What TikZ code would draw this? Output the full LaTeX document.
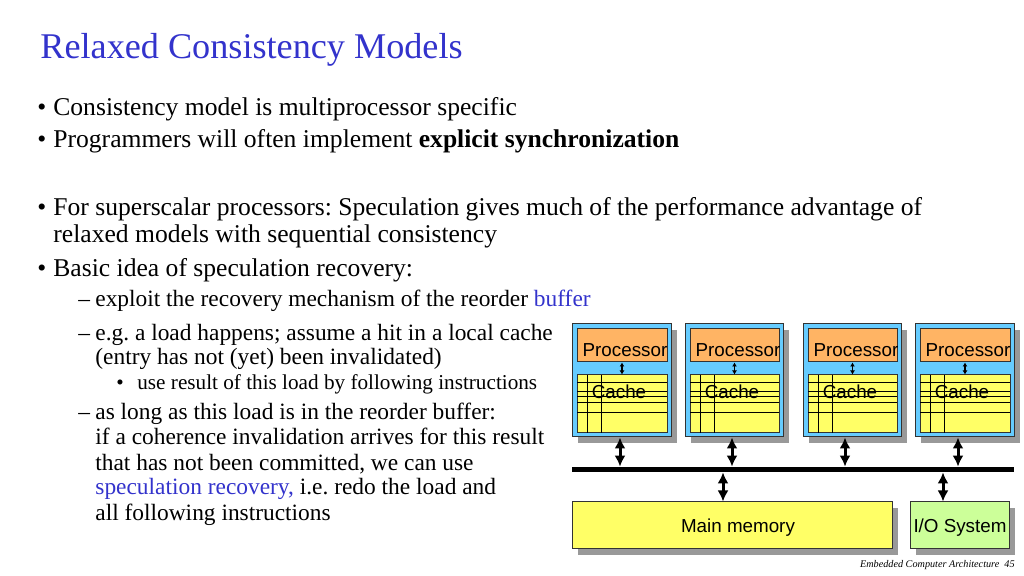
\documentclass[tikz,border=0pt]{standalone}
\usepackage{fontspec}
\setmainfont{Liberation Serif}
\newfontfamily\diagfont{Liberation Sans}
\usetikzlibrary{arrows.meta,fit,shadows}

\definecolor{titleblue}{RGB}{51,51,204}
\definecolor{unitblue}{RGB}{102,204,255}
\definecolor{procorange}{RGB}{255,180,100}
\definecolor{cacheyellow}{RGB}{255,255,102}
\definecolor{iogreen}{RGB}{204,255,153}
\definecolor{shadowgray}{RGB}{153,153,153}

\newcommand{\bul}{\makebox[8pt][l]{\textbullet}}
\newcommand{\dsh}{\makebox[8.5pt][l]{\textendash}}
\newcommand{\sbul}{\makebox[10.5pt][l]{\textbullet}}

\tikzset{
    maintext/.style={anchor=base west, inner sep=0pt, font=\frenchspacing\fontsize{12.8}{15}\selectfont},
    subtext/.style={anchor=base west, inner sep=0pt, font=\frenchspacing\fontsize{11.7}{14}\selectfont},
    smalltext/.style={anchor=base west, inner sep=0pt, font=\frenchspacing\fontsize{10.6}{13}\selectfont},
    box/.style={draw=black!80, line width=0.5pt, inner sep=0pt},
    boxtext/.style={inner sep=0pt, font=\diagfont\fontsize{9.4}{11}\selectfont},
    shadowed/.style={drop shadow={shadow xshift=3pt, shadow yshift=-3pt, opacity=1, fill=shadowgray}},
    busarrow/.style={{Latex[length=5.5pt,width=5.5pt]}-{Latex[length=5.5pt,width=5.5pt]}, line width=1.5pt},
    tinyarrow/.style={{Latex[length=2pt,width=2.5pt]}-{Latex[length=2pt,width=2.5pt]}, line width=0.6pt},
    gridline/.style={line width=0.5pt}
}

\begin{document}
\begin{tikzpicture}[x=0.5pt,y=-0.5pt]
    \useasboundingbox (0,0) rectangle (1024,576);
    \fill[white] (0,0) rectangle (1024,576);

    \node[anchor=base west, inner sep=0pt, font=\fontsize{18.1}{21}\selectfont, text=titleblue] (title) at (40,59) {Relaxed Consistency Models};

    \node[maintext] (m1) at (37,116) {\bul Consistency model is multiprocessor specific};
    \node[maintext] (m2) at (37,148) {\bul Programmers will often implement \textbf{explicit synchronization}};
    \node[maintext] (m3) at (37,216) {\bul For superscalar processors: Speculation gives much of the performance advantage of};
    \node[maintext] (m3b) at (53,243) {relaxed models with sequential consistency};
    \node[maintext] (m4) at (37,277) {\bul Basic idea of speculation recovery:};

    \node[subtext] (s1) at (78,307) {\dsh exploit the recovery mechanism of the reorder \textcolor{titleblue}{buffer}};
    \node[subtext] (s2) at (78,341) {\dsh e.g. a load happens; assume a hit in a local cache};
    \node[subtext] (s2b) at (95,365) {(entry has not (yet) been invalidated)};
    \node[smalltext] (t1) at (116,390) {\sbul use result of this load by following instructions};
    \node[subtext] (s3) at (78,420) {\dsh as long as this load is in the reorder buffer:};
    \node[subtext] (s3b) at (95,445) {if a coherence invalidation arrives for this result};
    \node[subtext] (s3c) at (95,471) {that has not been committed, we can use};
    \node[subtext] (s3d) at (95,495) {\textcolor{titleblue}{speculation recovery,} i.e. redo the load and};
    \node[subtext] (s3e) at (95,521) {all following instructions};

    \node[fill=black, inner sep=0pt, fit={(572,467) (1014,472)}] (bus) {};

    \foreach \lx/\rx/\ax [count=\i] in {572/671/620, 685/783/732, 803/901/845, 915/1014/958}{
        \node[box, shadowed, fill=unitblue, fit={(\lx,324) (\rx,437)}] (u\i) {};
        \node[box, fill=procorange, fit={(\lx+5,329) (\rx-4,362)}] (p\i) {};
        \node[box, fill=cacheyellow, fit={(\lx+5,375) (\rx-4,433)}] (c\i) {};
        \foreach \y in {383,392,397,403,413}
            \draw[gridline] (\lx+5,\y) -- (\rx-4,\y);
        \draw[gridline] (\lx+15,375) -- (\lx+15,433);
        \draw[gridline] (\lx+29,375) -- (\lx+29,433);
        \node[boxtext] (pt\i) at (\lx+53,350) {Processor};
        \node[boxtext] (ct\i) at (\lx+47,392) {Cache};
        \draw[tinyarrow] (p\i) -- (c\i);
        \coordinate (a\i) at (\ax,0);
        \draw[busarrow] (u\i.south -| a\i) -- (bus.north -| a\i);
    }

    \node[box, shadowed, fill=cacheyellow, fit={(572,502) (892,549)}] (mem) {};
    \node[box, shadowed, fill=iogreen, fit={(910,502) (1009,549)}] (io) {};
    \node[boxtext] (memt) at (738,528) {Main memory};
    \node[boxtext] (iot) at (960,528) {I/O System};

    \coordinate (am) at (723,0);
    \coordinate (ai) at (943,0);
    \draw[busarrow] (bus.south -| am) -- (mem.north -| am);
    \draw[busarrow] (bus.south -| ai) -- (io.north -| ai);

    \node[anchor=base east, inner sep=0pt, font=\itshape\fontsize{5.1}{6}\selectfont] (foot) at (1015,568) {Embedded Computer Architecture\ \ 45};
\end{tikzpicture}
\end{document}
